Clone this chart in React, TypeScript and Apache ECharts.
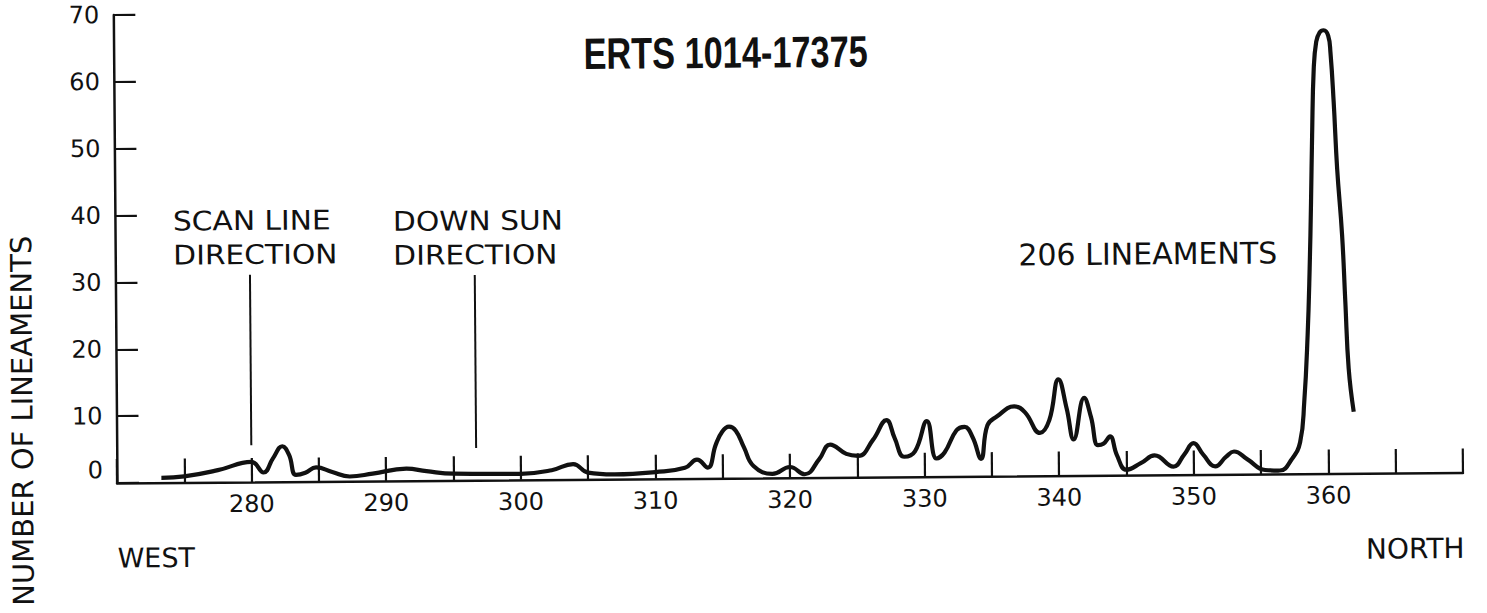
import React, { useEffect, useRef } from "react";
import * as echarts from "echarts";

// ---- data ----
const angles = [
  273.3, 275, 277.5, 280, 280.9, 281.6, 282.3, 282.8, 283.3, 284.0, 284.8, 286, 287.3, 289, 291.5, 293, 295, 300, 302.3,
  303.9, 305, 307, 310, 312.2, 313.1, 313.9, 314.5, 315.0, 315.5, 316.0, 316.6, 317.3, 318.7, 320.0, 321.1, 322.2,
  323.0, 324.2, 325.1, 326.2, 327.2, 327.8, 328.5, 329.3, 330.2, 330.9, 331.5, 332.4, 333.0, 333.6, 334.2, 334.7,
  335.4, 336.7, 337.5, 338.6, 339.3, 340.0, 340.6, 341.1, 341.9, 342.4, 342.9, 343.3, 343.8, 344.3, 345.0, 346.1,
  347.1, 348.5, 349.3, 350.0, 350.7, 351.6, 352.4, 353.0, 354.0, 355.3, 356.4, 357.3, 357.92, 358.25, 358.54,
  358.73, 358.87, 358.99, 359.15, 359.35, 359.61, 359.91, 360.24, 360.4, 360.61, 360.83, 361.16, 361.36, 361.57,
  361.92,
];
const counts = [
  0.7, 0.9, 1.8, 3.0, 1.4, 3.5, 5.3, 4.0, 1.0, 1.3, 2.1, 1.4, 0.7, 1.1, 1.8, 1.4, 1.0, 0.9, 1.4,
  2.3, 1.0, 0.7, 1.0, 1.6, 2.8, 1.6, 5.0, 7.0, 7.7, 7.1, 4.6, 1.8, 0.6, 1.6, 0.5, 2.8,
  4.9, 3.5, 3.2, 5.6, 8.5, 5.8, 3.0, 3.8, 8.3, 2.7, 3.6, 6.9, 7.4, 5.8, 2.6, 7.6,
  8.9, 10.4, 9.5, 6.4, 8.3, 14.4, 10.0, 5.4, 11.6, 8.7, 4.5, 4.7, 5.8, 3.0, 0.8, 1.8,
  2.9, 1.2, 3.0, 4.7, 3.0, 1.2, 2.6, 3.4, 2.2, 0.6, 0.5, 2.2, 4.7, 10.7, 20.7,
  30.7, 40.6, 50.6, 60.6, 64.6, 66.0, 66.3, 65.5, 63.0, 55.6, 45.6, 35.6, 25.7, 15.7,
  9.2,
];
const xTickLabels = ["280", "290", "300", "310", "320", "330", "340", "350", "360"];
const yTickLabels = ["0", "10", "20", "30", "40", "50", "60", "70"];
const scanLineAngle = 280;
const scanLineSpan = [5.5, 31];
const downSunAngle = 296.7;
const downSunSpan = [4.8, 30.7];
const titleText = "ERTS 1014-17375";
const scanLabel = ["SCAN LINE", "DIRECTION"];
const sunLabel = ["DOWN SUN", "DIRECTION"];
const countLabel = "206 LINEAMENTS";
const westLabel = "WEST";
const northLabel = "NORTH";
const yAxisTitle = "NUMBER OF LINEAMENTS";

export default function App() {
  const ref = useRef<HTMLDivElement>(null);
  useEffect(() => {
    document.body.style.margin = "0";
    document.body.style.background = "#ffffff";
    const chart = echarts.init(ref.current!, undefined, { renderer: "svg" });
    const FONT = "'DejaVu Sans', 'Noto Sans', sans-serif";
    const INK = "#111111";
    const curve = angles.map((a, i) => [a, counts[i]]);
    const txt = (text: string, x: number, y: number, size: number, align: string, extra: any = {}, st: any = {}) => ({
      type: "text",
      x,
      y,
      silent: true,
      ...extra,
      style: {
        text,
        fill: INK,
        fontSize: size,
        fontFamily: FONT,
        textAlign: align,
        textVerticalAlign: "middle",
        ...st,
      },
    });
    chart.setOption({
      animation: false,
      backgroundColor: "#ffffff",
      grid: { left: 117, right: 24, top: 15, bottom: 130, containLabel: false },
      xAxis: {
        type: "value",
        min: 270,
        max: 370,
        interval: 5,
        axisLine: { show: true, onZero: false, lineStyle: { color: INK, width: 2.5 } },
        axisTick: { show: true, inside: true, length: 24, lineStyle: { color: INK, width: 2.2 } },
        axisLabel: {
          margin: 10,
          fontSize: 24,
          color: INK,
          fontFamily: FONT,
          showMinLabel: true,
          showMaxLabel: true,
          formatter: (v: number) => (xTickLabels.includes(String(v)) ? String(v) : ""),
        },
        splitLine: { show: false },
      },
      yAxis: {
        type: "value",
        min: 0,
        max: 70,
        interval: 10,
        axisLine: { show: true, onZero: false, lineStyle: { color: INK, width: 2.5 } },
        axisTick: { show: true, inside: true, length: 22, lineStyle: { color: INK, width: 2.2 } },
        axisLabel: {
          margin: 14,
          fontSize: 24,
          color: INK,
          fontFamily: FONT,
          formatter: (v: number) => {
            const s = String(v);
            if (!yTickLabels.includes(s)) return "";
            return v === 0 ? "{z|" + s + "}" : s;
          },
          rich: { z: { fontSize: 24, fontFamily: FONT, color: INK, padding: [0, 0, 26, 0] } },
        },
        splitLine: { show: false },
      },
      series: [
        {
          type: "line",
          data: curve,
          smooth: 0.45,
          symbol: "none",
          showSymbol: false,
          lineStyle: { color: INK, width: 4.2 },
          z: 3,
        },
        {
          type: "line",
          data: [[scanLineAngle, scanLineSpan[0]], [scanLineAngle, scanLineSpan[1]]],
          symbol: "none",
          lineStyle: { color: INK, width: 2 },
        },
        {
          type: "line",
          data: [[downSunAngle, downSunSpan[0]], [downSunAngle, downSunSpan[1]]],
          symbol: "none",
          lineStyle: { color: INK, width: 2 },
        },
      ],
      graphic: [
        txt(titleText, 729, 57, 44, "center", { scaleX: 0.78 }, { fontFamily: "'Liberation Sans', sans-serif", fontWeight: "bold" }),
        txt(scanLabel[0], 175, 222, 27, "left", { scaleX: 1.1 }),
        txt(scanLabel[1], 175, 256, 27, "left", { scaleX: 1.1 }),
        txt(sunLabel[0], 395, 224, 27, "left", { scaleX: 1.1 }),
        txt(sunLabel[1], 395, 258, 27, "left", { scaleX: 1.1 }),
        txt(countLabel, 1279, 262, 30, "right"),
        txt(westLabel, 117, 558, 27, "left"),
        txt(northLabel, 1464, 559, 28, "right"),
        txt(yAxisTitle, 23, 420, 29, "center", { rotation: Math.PI / 2 }),
      ],
    });
    return () => chart.dispose();
  }, []);
  return (
    <div
      ref={ref}
      style={{
        position: "absolute",
        left: 0,
        top: 0,
        width: 1487,
        height: 613,
        transform: "rotate(-0.45deg)",
        transformOrigin: "117px 483px",
      }}
    />
  );
}
